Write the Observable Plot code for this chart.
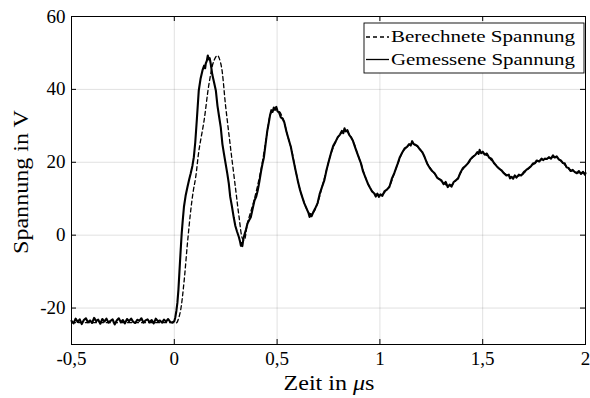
<!DOCTYPE html>
<html><head><meta charset="utf-8">
<script src="https://cdn.jsdelivr.net/npm/d3@7"></script>
<script src="https://cdn.jsdelivr.net/npm/@observablehq/plot@0.6"></script>
<style>body{margin:0;background:#fff}</style>
</head><body><div id="chart"></div>
<script>
const xTicks = [-0.5, 0, 0.5, 1, 1.5, 2];
const yTicks = [-20, 0, 20, 40, 60];
const seriesNames = ["Berechnete Spannung", "Gemessene Spannung"];
const xLabel = ["Zeit in ", "μ", "s"];
const yLabel = "Spannung in V";

// Gemessene Spannung [t in µs, U in V]
const measured = [
[-0.50,-23.5],[-0.49,-24.2],[-0.48,-22.9],[-0.47,-23.8],[-0.46,-23.1],[-0.45,-24.4],[-0.44,-23.3],[-0.43,-22.8],[-0.42,-23.9],[-0.41,-23.4],
[-0.40,-24.1],[-0.39,-22.7],[-0.38,-23.6],[-0.37,-23.2],[-0.36,-24.3],[-0.35,-23.0],[-0.34,-23.7],[-0.33,-22.9],[-0.32,-24.0],[-0.31,-23.5],
[-0.30,-23.1],[-0.29,-24.5],[-0.28,-23.4],[-0.27,-22.8],[-0.26,-23.9],[-0.25,-23.3],[-0.24,-24.2],[-0.23,-23.0],[-0.22,-23.6],[-0.21,-22.9],
[-0.20,-23.8],[-0.19,-24.1],[-0.18,-23.2],[-0.17,-23.5],[-0.16,-22.8],[-0.15,-24.0],[-0.14,-23.4],[-0.13,-23.1],[-0.12,-23.9],[-0.11,-23.3],
[-0.10,-24.2],[-0.09,-22.9],[-0.08,-23.6],[-0.07,-23.4],[-0.06,-24.0],[-0.05,-23.2],[-0.04,-23.7],[-0.03,-23.0],[-0.02,-23.8],[-0.01,-24.0],
[0.000,-23.6],[0.005,-22.5],[0.010,-20.8],[0.015,-18.6],[0.020,-15],[0.025,-10],[0.031,-4.1],[0.036,0.5],[0.041,4],[0.047,7.8],
[0.055,10.8],[0.064,13.2],[0.072,15.2],[0.080,17.0],[0.088,19],[0.095,21.4],[0.102,25.5],[0.110,32],[0.119,39.7],[0.128,43],
[0.137,45.2],[0.145,46.5],[0.150,45.8],[0.153,47.1],[0.158,47.8],[0.163,49.3],[0.168,48.2],[0.172,48.6],[0.177,47.1],[0.185,44],
[0.193,42],[0.202,39.7],[0.210,35.5],[0.218,32.5],[0.226,29.6],[0.234,25],[0.241,22.5],[0.250,19.5],[0.258,16.8],[0.265,14.2],
[0.272,10.5],[0.280,8],[0.289,4.9],[0.297,2.5],[0.305,1],[0.314,-0.5],[0.320,-1.8],[0.324,-2.9],[0.327,-2.2],[0.331,-3.0],
[0.336,-1.0],[0.342,0.3],[0.348,1.4],[0.356,3.2],[0.364,4.1],[0.372,4.9],[0.380,7.0],[0.390,9.5],[0.398,10.5],[0.406,12.3],
[0.414,14.8],[0.422,17.5],[0.429,19.6],[0.436,21.4],[0.444,25],[0.452,28.5],[0.460,31],[0.466,33],[0.472,34.3],[0.478,33.8],
[0.484,35.0],[0.490,34.4],[0.496,35.2],[0.502,34.0],[0.510,33.6],[0.518,32.3],[0.526,32.0],[0.535,31.0],[0.545,28.5],[0.556,26.3],
[0.567,24.2],[0.578,21],[0.589,18],[0.600,15.1],[0.611,12.5],[0.622,10.5],[0.632,8.8],[0.642,7.5],[0.652,6.2],[0.658,5.0],
[0.663,5.8],[0.668,5.2],[0.675,6.2],[0.685,7.3],[0.697,8.8],[0.708,11.5],[0.719,13.3],[0.730,15.1],[0.741,18],[0.752,20.4],
[0.762,22.5],[0.773,24.5],[0.784,25.6],[0.795,26.9],[0.806,27.6],[0.815,28.6],[0.822,28.0],[0.828,29.3],[0.834,28.5],[0.842,28.8],
[0.850,27.6],[0.860,26.8],[0.868,26.0],[0.880,24.0],[0.894,21.8],[0.908,19.7],[0.918,17.5],[0.930,15.8],[0.941,14.2],[0.952,13.0],
[0.962,12.0],[0.972,11.5],[0.980,10.6],[0.988,11.4],[0.995,10.5],[1.003,11.2],[1.012,10.8],[1.022,12.0],[1.034,12.5],[1.046,13.2],
[1.058,15.5],[1.070,17.0],[1.080,18.6],[1.087,19.7],[1.097,21.4],[1.108,22.6],[1.120,23.8],[1.132,24.2],[1.142,25.0],[1.150,24.6],
[1.157,25.8],[1.164,25.0],[1.172,24.8],[1.182,24.5],[1.195,23.5],[1.206,22.8],[1.217,21.5],[1.230,19.6],[1.242,18.5],[1.254,17.6],
[1.266,17.0],[1.278,15.8],[1.288,15.4],[1.298,15.1],[1.310,14.0],[1.320,14.6],[1.330,13.2],[1.339,13.9],[1.348,13.3],[1.358,14.5],
[1.368,15.0],[1.380,15.5],[1.392,17.2],[1.404,18.4],[1.416,19.0],[1.428,19.7],[1.440,20.8],[1.452,21.5],[1.464,22.0],[1.474,22.8],
[1.480,22.3],[1.485,23.4],[1.492,22.5],[1.500,22.9],[1.510,22.1],[1.520,22.4],[1.531,21.3],[1.542,21.0],[1.555,19.8],[1.567,19.0],
[1.579,18.3],[1.591,17.8],[1.603,17.0],[1.615,16.4],[1.627,16.6],[1.633,15.6],[1.639,16.0],[1.648,15.5],[1.656,16.4],[1.664,15.8],
[1.676,16.6],[1.688,16.4],[1.700,17.3],[1.712,17.9],[1.724,18.4],[1.736,19.0],[1.745,19.7],[1.753,19.7],[1.763,20.5],[1.775,20.2],
[1.786,21.0],[1.795,20.6],[1.802,21.0],[1.812,20.9],[1.822,21.4],[1.832,21.0],[1.842,21.9],[1.850,21.3],[1.860,21.6],[1.870,20.8],
[1.880,20.5],[1.890,19.8],[1.899,19.7],[1.908,18.6],[1.918,18.4],[1.928,17.6],[1.938,17.9],[1.948,17.3],[1.958,17.0],[1.968,17.6],
[1.978,16.8],[1.988,17.4],[1.997,16.6],[2.000,17.0]
];

// Berechnete Spannung [t in µs, U in V]
const computed = [
[-0.5,-24],[0.0,-24],[0.012,-24],[0.02,-23],[0.031,-20.5],[0.047,-13],[0.064,-2.2],[0.080,6.8],[0.092,12],[0.104,15.9],
[0.120,23.3],[0.145,31.5],[0.169,41.6],[0.193,47.9],[0.210,49.3],[0.226,47.1],[0.25,35.2],[0.275,23.3],[0.299,12.3],[0.315,5.0],
[0.332,-1.0],[0.340,-1.4],[0.356,3.3],[0.388,9.6],[0.421,17.8],[0.45,27.5],[0.47,33.5],[0.49,34.8],[0.51,34.0],[0.53,31.8],
[0.55,27.5],[0.57,23.5],[0.59,17.8],[0.61,12.8],[0.63,9.2],[0.65,6.5],[0.665,5.6],[0.68,6.5],[0.70,9.3],[0.72,13.5],
[0.74,17.8],[0.76,22.0],[0.78,25.0],[0.80,27.2],[0.83,28.7],[0.85,27.8],[0.87,25.8],[0.89,22.5],[0.91,19.3],[0.93,15.8],
[0.95,13.2],[0.97,11.6],[0.99,11.0],[1.01,11.1],[1.03,12.2],[1.05,13.8],[1.07,17.0],[1.09,20.0],[1.11,22.8],[1.13,24.1],
[1.15,25.0],[1.17,24.8],[1.19,23.9],[1.21,22.3],[1.23,19.8],[1.25,18.0],[1.27,16.6],[1.29,15.3],[1.31,14.3],[1.33,13.6],
[1.35,13.8],[1.37,15.0],[1.39,16.8],[1.41,18.6],[1.43,19.8],[1.45,21.3],[1.47,22.4],[1.49,22.7],[1.51,22.2],[1.53,21.3],
[1.55,20.0],[1.57,18.9],[1.59,17.8],[1.61,16.8],[1.63,16.1],[1.65,15.9],[1.67,16.2],[1.69,16.5],[1.71,17.6],[1.73,18.6],
[1.75,19.6],[1.77,20.3],[1.79,20.8],[1.81,21.0],[1.83,21.2],[1.85,21.4],[1.87,20.8],[1.89,19.9],[1.91,18.6],[1.93,17.7],
[1.95,17.3],[1.97,17.1],[1.99,17.0],[2.0,17.0]
];

const W = 590, H = 398, mL = 71, mR = 5, mT = 16, mB = 54;
const ph = H - mT - mB, pw = W - mL - mR;
const FONT = "Liberation Serif";
const fmt = d => String(d).replace(".", ",");
const toObj = a => a.map(([t, v]) => ({t, v}));

const chart = Plot.plot({
  width: W, height: H,
  marginLeft: mL, marginRight: mR, marginTop: mT, marginBottom: mB,
  style: {fontFamily: FONT, fontSize: "19px", background: "#fff", color: "#000", overflow: "visible"},
  x: {domain: [-0.5, 2]},
  y: {domain: [-30, 60]},
  marks: [
    Plot.gridX(xTicks, {stroke: "#000", strokeOpacity: 0.12}),
    Plot.gridY(yTicks, {stroke: "#000", strokeOpacity: 0.12}),
    Plot.line(toObj(computed), {x: "t", y: "v", stroke: "#000", strokeWidth: 1.3, strokeDasharray: "4,3", curve: "catmull-rom"}),
    Plot.line(toObj(measured), {x: "t", y: "v", stroke: "#000", strokeWidth: 2.1}),
    Plot.ruleX(xTicks, {stroke: "#000", insetTop: ph - 5}),
    Plot.ruleX(xTicks, {stroke: "#000", insetBottom: ph - 5}),
    Plot.ruleY(yTicks, {stroke: "#000", insetRight: pw - 5}),
    Plot.ruleY(yTicks, {stroke: "#000", insetLeft: pw - 5}),
    Plot.frame({stroke: "#000", strokeWidth: 1}),
    Plot.axisX(xTicks, {tickSize: 0, tickPadding: 7, tickFormat: fmt, label: null, fontSize: 19}),
    Plot.axisY(yTicks, {tickSize: 0, tickPadding: 6, tickFormat: fmt, label: null, fontSize: 19})
  ]
});
document.getElementById("chart").appendChild(chart);

const svg = d3.select(chart);
// axis titles
const xt = svg.append("text").attr("x", 329).attr("y", 390)
  .attr("text-anchor", "middle").attr("font-family", FONT).attr("font-size", 20).attr("fill", "#000")
  .attr("textLength", 91).attr("lengthAdjust", "spacingAndGlyphs");
xt.append("tspan").text(xLabel[0]);
xt.append("tspan").attr("font-style", "italic").text(xLabel[1]);
xt.append("tspan").text(xLabel[2]);
svg.append("text").attr("transform", `translate(28,182) rotate(-90)`)
  .attr("text-anchor", "middle").attr("font-family", FONT).attr("font-size", 20.5)
  .attr("textLength", 144).attr("lengthAdjust", "spacingAndGlyphs")
  .attr("fill", "#000").text(yLabel);

// legend
const lg = svg.append("g").attr("font-family", FONT).attr("font-size", 16.5).attr("text-anchor", "start");
lg.append("rect").attr("x", 364).attr("y", 23).attr("width", 220).attr("height", 50)
  .attr("fill", "#fff").attr("stroke", "#000").attr("stroke-width", 0.9);
const rows = [{y: 37, dash: "4,3"}, {y: 59.5, dash: null}];
rows.forEach((r, i) => {
  const l = lg.append("line").attr("x1", 366).attr("x2", 389).attr("y1", r.y).attr("y2", r.y)
    .attr("stroke", "#000").attr("stroke-width", 1.3);
  if (r.dash) l.attr("stroke-dasharray", r.dash);
  lg.append("text").attr("x", 391).attr("y", r.y).attr("dy", "0.33em").attr("fill", "#000")
    .attr("textLength", 184).attr("lengthAdjust", "spacingAndGlyphs").text(seriesNames[i]);
});
</script>
</body></html>
